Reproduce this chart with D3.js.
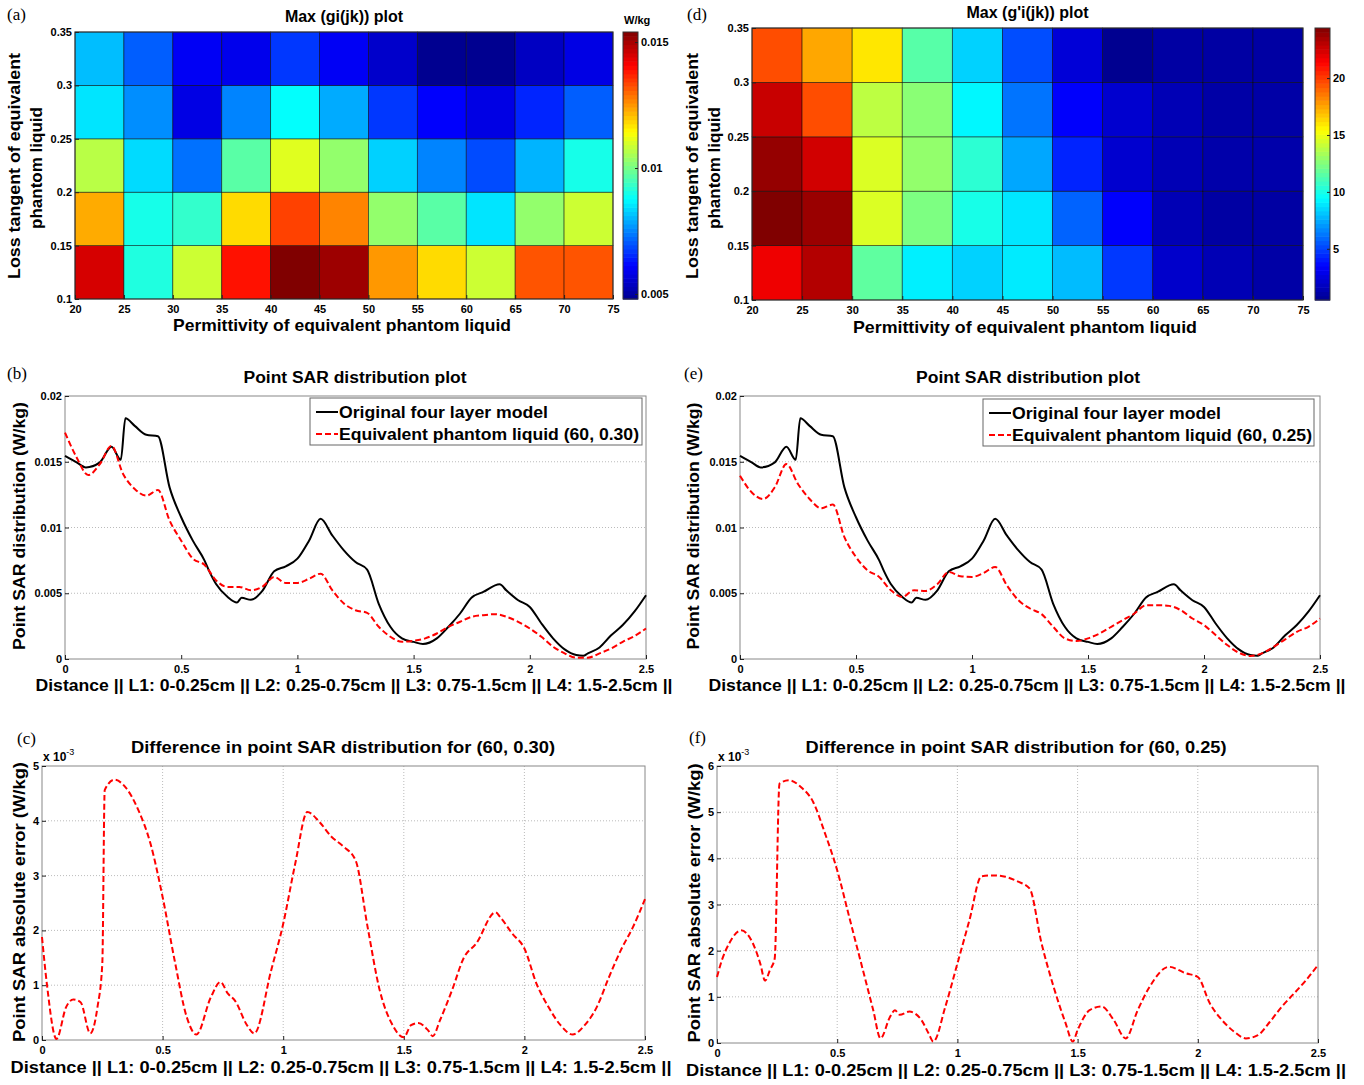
<!DOCTYPE html>
<html>
<head>
<meta charset="utf-8">
<script src="https://cdn.jsdelivr.net/npm/d3@7"></script>
<style>
  body { margin: 0; background: #fff; }
  svg text { font-family: "Liberation Sans", Arial, sans-serif; font-weight: bold; fill: #000; }
  svg text.plabel { font-family: "Liberation Serif", "Times New Roman", serif; font-weight: normal; }
</style>
</head>
<body>
<svg id="fig" width="1364" height="1085"></svg>
<script>
// ---- heatmap grid
const permEdges = [20, 25, 30, 35, 40, 45, 50, 55, 60, 65, 70, 75];
const tanEdges = [0.1, 0.15, 0.2, 0.25, 0.3, 0.35];

// Max(gi(jk)) in W/kg, one row per loss tangent band (bottom to top)
const gi_tan010 = [0.0145, 0.0091, 0.0109, 0.0139, 0.0154, 0.0151, 0.0125, 0.0118, 0.0109, 0.0132, 0.0132];
const gi_tan015 = [0.0123, 0.0090, 0.0093, 0.0118, 0.0134, 0.0127, 0.0103, 0.0097, 0.0085, 0.0103, 0.0109];
const gi_tan020 = [0.0107, 0.0084, 0.0073, 0.0097, 0.0111, 0.0103, 0.0083, 0.0075, 0.0069, 0.0080, 0.0090];
const gi_tan025 = [0.0085, 0.0076, 0.0058, 0.0075, 0.0088, 0.0079, 0.0067, 0.0061, 0.0058, 0.0065, 0.0071];
const gi_tan030 = [0.0081, 0.0071, 0.0060, 0.0059, 0.0067, 0.0060, 0.0055, 0.0048, 0.0048, 0.0054, 0.0058];

// Max(g'i(jk))
const gp_tan010 = [21.8, 23.2, 11.7, 9.1, 8.4, 9.0, 7.9, 4.8, 2.1, 1.5, 1.1];
const gp_tan015 = [24.4, 23.8, 14.6, 12.4, 10.0, 8.9, 5.8, 3.4, 1.5, 1.0, 1.0];
const gp_tan020 = [23.9, 22.5, 14.6, 12.9, 10.5, 7.4, 4.3, 2.2, 1.5, 1.2, 1.2];
const gp_tan025 = [22.7, 19.6, 13.9, 12.7, 9.3, 6.2, 3.4, 2.2, 1.5, 1.1, 1.1];
const gp_tan030 = [19.6, 17.5, 16.0, 11.5, 8.4, 5.3, 2.4, 0.5, 1.0, 1.0, 1.0];

// ---- point SAR (W/kg) vs distance (cm)
const distTicks = [0, 0.5, 1, 1.5, 2, 2.5];
const origDist = [0, 0.05, 0.09, 0.15, 0.2, 0.24, 0.26, 0.3, 0.35, 0.4, 0.45, 0.5, 0.55, 0.6, 0.62, 0.65, 0.7, 0.74, 0.76, 0.8,
  0.85, 0.9, 0.95, 1.0, 1.05, 1.1, 1.15, 1.2, 1.25, 1.3, 1.35, 1.4, 1.45, 1.5, 1.54, 1.6, 1.65, 1.7, 1.75, 1.8,
  1.87, 1.9, 1.95, 2.0, 2.05, 2.1, 2.15, 2.2, 2.23, 2.25, 2.3, 2.35, 2.4, 2.45, 2.5];
const origSAR = [0.01545, 0.01495, 0.01457, 0.01495, 0.01614, 0.01515, 0.0183, 0.01773, 0.01705, 0.01694, 0.01305, 0.01078, 0.0090, 0.0075, 0.0067, 0.0057, 0.00472, 0.0043, 0.00465, 0.0045,
  0.0052, 0.00667, 0.00705, 0.00763, 0.0090, 0.01066, 0.0094, 0.00826, 0.00737, 0.0068, 0.0042, 0.00245, 0.00157, 0.0013, 0.00114, 0.00157, 0.00245, 0.00346, 0.00467, 0.0051,
  0.00568, 0.0052, 0.00447, 0.00396, 0.0027, 0.00157, 0.00073, 0.0003, 0.00025, 0.00043, 0.00088, 0.0018, 0.00258, 0.0036, 0.00485];

const eqDist = [0, 0.05, 0.1, 0.15, 0.2, 0.25, 0.3, 0.35, 0.4, 0.45, 0.5, 0.55, 0.6, 0.65, 0.7, 0.75, 0.8, 0.85, 0.9, 0.95,
  1.0, 1.05, 1.1, 1.15, 1.2, 1.25, 1.3, 1.35, 1.4, 1.45, 1.5, 1.55, 1.6, 1.65, 1.7, 1.75, 1.8, 1.85, 1.9, 1.95,
  2.0, 2.05, 2.1, 2.15, 2.2, 2.25, 2.3, 2.35, 2.4, 2.45, 2.5];
const eqSAR_030 = [0.01722, 0.01533, 0.01399, 0.01482, 0.01621, 0.01407, 0.01293, 0.01242, 0.01285, 0.01053, 0.0090, 0.00763, 0.00717, 0.00598, 0.00548, 0.00548, 0.00523, 0.0055, 0.00624, 0.00578,
  0.00578, 0.0061, 0.00649, 0.00523, 0.00422, 0.00371, 0.00351, 0.00245, 0.00169, 0.00131, 0.00139, 0.00157, 0.00194, 0.00245, 0.00283, 0.00321, 0.00333, 0.00341, 0.00321, 0.00283,
  0.00232, 0.00169, 0.00093, 0.00043, 0.0001, 0.0001, 0.00043, 0.0008, 0.00131, 0.00174, 0.00232];
const eqSAR_025 = [0.01394, 0.01268, 0.01217, 0.01306, 0.01482, 0.01331, 0.01217, 0.01146, 0.01174, 0.00927, 0.00775, 0.00674, 0.00624, 0.00523, 0.00472, 0.00523, 0.00518, 0.00568, 0.00662, 0.00629,
  0.00624, 0.00654, 0.0070, 0.00561, 0.00447, 0.00384, 0.00341, 0.00245, 0.00157, 0.00136, 0.00157, 0.00194, 0.00245, 0.00295, 0.00346, 0.00409, 0.00409, 0.00404, 0.00371, 0.00308,
  0.00258, 0.00182, 0.00106, 0.00048, 0.00023, 0.00043, 0.00093, 0.00149, 0.00207, 0.00245, 0.00308];

// absolute error, x 10^-3 W/kg
const diffDist_030 = [0, 0.02, 0.06, 0.1, 0.13, 0.16, 0.2, 0.23, 0.25, 0.26, 0.3, 0.35, 0.4, 0.45, 0.5, 0.55, 0.6, 0.64, 0.7, 0.74,
  0.77, 0.8, 0.85, 0.88, 0.95, 1.0, 1.05, 1.1, 1.15, 1.2, 1.25, 1.3, 1.35, 1.4, 1.45, 1.5, 1.53, 1.56, 1.6, 1.62,
  1.65, 1.7, 1.75, 1.8, 1.88, 1.9, 1.95, 2.0, 2.05, 2.1, 2.15, 2.2, 2.25, 2.3, 2.35, 2.4, 2.45, 2.5];
const diff_030 = [1.88, 1.03, 0.02, 0.6, 0.74, 0.69, 0.12, 0.6, 1.39, 4.56, 4.75, 4.59, 4.19, 3.58, 2.61, 1.45, 0.42, 0.1, 0.78, 1.06,
  0.85, 0.72, 0.27, 0.12, 1.27, 2.12, 3.22, 4.16, 3.98, 3.71, 3.53, 3.28, 2.06, 0.91, 0.3, 0.05, 0.27, 0.31, 0.18, 0.07,
  0.36, 0.91, 1.51, 1.76, 2.33, 2.24, 1.94, 1.67, 1.03, 0.6, 0.27, 0.1, 0.27, 0.6, 1.14, 1.64, 2.06, 2.57];
const diffDist_025 = [0, 0.02, 0.05, 0.1, 0.15, 0.18, 0.2, 0.22, 0.24, 0.26, 0.3, 0.35, 0.4, 0.45, 0.5, 0.55, 0.6, 0.65, 0.68, 0.72,
  0.74, 0.76, 0.8, 0.85, 0.88, 0.9, 0.95, 1.0, 1.05, 1.1, 1.15, 1.2, 1.25, 1.3, 1.35, 1.4, 1.45, 1.48, 1.5, 1.55,
  1.6, 1.65, 1.7, 1.75, 1.8, 1.88, 1.95, 2.0, 2.05, 2.1, 2.15, 2.2, 2.25, 2.3, 2.35, 2.4, 2.45, 2.5];
const diff_025 = [1.43, 1.79, 2.15, 2.44, 2.15, 1.72, 1.35, 1.58, 1.83, 5.62, 5.69, 5.54, 5.22, 4.53, 3.74, 2.73, 1.72, 0.71, 0.1, 0.57,
  0.71, 0.61, 0.68, 0.5, 0.21, 0.03, 0.79, 1.72, 2.66, 3.61, 3.63, 3.6, 3.5, 3.35, 2.16, 1.22, 0.43, 0.03, 0.28, 0.71,
  0.79, 0.5, 0.1, 0.71, 1.22, 1.65, 1.51, 1.43, 0.86, 0.5, 0.25, 0.1, 0.17, 0.46, 0.79, 1.07, 1.36, 1.69];

const xLabelDist = "Distance || L1: 0-0.25cm || L2: 0.25-0.75cm || L3: 0.75-1.5cm || L4: 1.5-2.5cm ||";

const svg = d3.select("#fig");

// MATLAB jet
const jet = d3.scaleLinear()
  .domain([0, 0.125, 0.375, 0.625, 0.875, 1])
  .range(["#000090", "#0000ff", "#00ffff", "#ffff00", "#ff0000", "#800000"])
  .clamp(true);

function txt(x, y, s, size, opt = {}) {
  const t = svg.append("text")
    .attr("x", x).attr("y", y)
    .attr("font-size", size)
    .attr("text-anchor", opt.anchor || "middle")
    .text(s);
  if (opt.rotate) t.attr("transform", `rotate(-90,${x},${y})`).attr("dy", "0.35em");
  if (opt.len) t.attr("textLength", opt.len).attr("lengthAdjust", "spacingAndGlyphs");
  if (opt.cls) t.attr("class", opt.cls);
  return t;
}

function styleAxis(ax, size) {
  ax.attr("font-size", size).attr("font-family", null);
  ax.select(".domain").remove();
  ax.selectAll(".tick line").attr("stroke", "#222");
}

function heatmap(o) {
  const x = d3.scaleLinear().domain([20, 75]).range([o.left, o.right]);
  const y = d3.scaleLinear().domain([0.1, 0.35]).range([o.bottom, o.top]);
  const ext = d3.extent(o.rows.flat());
  const norm = d3.scaleLinear().domain(ext).range([0, 1]);
  const g = svg.append("g");

  const cells = o.rows.flatMap((row, i) => row.map((v, j) => ({ i, j, v })));
  g.selectAll("rect.cell").data(cells).join("rect")
    .attr("class", "cell")
    .attr("x", d => x(permEdges[d.j]))
    .attr("y", d => y(tanEdges[d.i + 1]))
    .attr("width", d => x(permEdges[d.j + 1]) - x(permEdges[d.j]))
    .attr("height", d => y(tanEdges[d.i]) - y(tanEdges[d.i + 1]))
    .attr("fill", d => jet(norm(d.v)))
    .attr("stroke", "#000").attr("stroke-opacity", 0.6).attr("stroke-width", 0.8);

  g.append("rect").attr("x", o.left).attr("y", o.top)
    .attr("width", o.right - o.left).attr("height", o.bottom - o.top)
    .attr("fill", "none").attr("stroke", "#333").attr("stroke-width", 1);

  const ax = g.append("g").attr("transform", `translate(0,${o.bottom})`)
    .call(d3.axisBottom(x).tickValues(permEdges).tickSize(-4).tickPadding(6).tickFormat(d => String(d)));
  styleAxis(ax, 11);
  const ay = g.append("g").attr("transform", `translate(${o.left},0)`)
    .call(d3.axisLeft(y).tickValues(tanEdges).tickSize(-4).tickPadding(3).tickFormat(d => String(d)));
  styleAxis(ay, 11);

  // colorbar
  const cb = d3.scaleLinear().domain(ext).range([o.bottom, o.top]);
  const n = 64, h = (o.bottom - o.top) / n;
  g.selectAll("rect.cb").data(d3.range(n)).join("rect")
    .attr("class", "cb")
    .attr("x", o.cbLeft).attr("width", o.cbRight - o.cbLeft)
    .attr("y", k => o.bottom - (k + 1) * h).attr("height", h + 0.6)
    .attr("fill", k => jet((k + 0.5) / n));
  g.append("rect").attr("x", o.cbLeft).attr("y", o.top)
    .attr("width", o.cbRight - o.cbLeft).attr("height", o.bottom - o.top)
    .attr("fill", "none").attr("stroke", "#333");
  const ac = g.append("g").attr("transform", `translate(${o.cbRight},0)`)
    .call(d3.axisRight(cb).tickValues(o.cbTicks).tickSize(-3).tickPadding(3).tickFormat(d => String(d)));
  styleAxis(ac, 11);

  txt((o.left + o.right) / 2, o.titleY, o.title, 16);
  txt(o.xlabX, o.xlabY, "Permittivity of equivalent phantom liquid", 17, { len: o.xlabLen });
  txt(o.ylab1X, 166, "Loss tangent of equivalent", 17, { rotate: true, len: 226 });
  txt(o.ylab2X, 168, "phantom liquid", 17, { rotate: true, len: 122 });
}

function linePanel(o) {
  const x = d3.scaleLinear().domain([0, 2.5]).range([o.left, o.right]);
  const y = d3.scaleLinear().domain([0, o.ymax]).range([o.bottom, o.top]);
  const g = svg.append("g");

  g.selectAll("line.gy").data(o.yTicks.slice(1, -1)).join("line")
    .attr("x1", o.left).attr("x2", o.right)
    .attr("y1", d => y(d)).attr("y2", d => y(d))
    .attr("stroke", "#aaa").attr("stroke-width", 0.8).attr("stroke-dasharray", "1,2");
  if (o.gridX) {
    g.selectAll("line.gx").data(distTicks.slice(1, -1)).join("line")
      .attr("y1", o.top).attr("y2", o.bottom)
      .attr("x1", d => x(d)).attr("x2", d => x(d))
      .attr("stroke", "#aaa").attr("stroke-width", 0.8).attr("stroke-dasharray", "1,2");
  }

  g.append("rect").attr("x", o.left).attr("y", o.top)
    .attr("width", o.right - o.left).attr("height", o.bottom - o.top)
    .attr("fill", "none").attr("stroke", "#888").attr("stroke-width", 1);

  const ax = g.append("g").attr("transform", `translate(0,${o.bottom})`)
    .call(d3.axisBottom(x).tickValues(distTicks).tickSize(-4).tickPadding(6).tickFormat(d => String(d)));
  styleAxis(ax, 11);
  const ay = g.append("g").attr("transform", `translate(${o.left},0)`)
    .call(d3.axisLeft(y).tickValues(o.yTicks).tickSize(-4).tickPadding(3).tickFormat(d => String(d)));
  styleAxis(ay, 11);

  const line = d3.line().x(d => x(d[0])).y(d => y(d[1])).curve(d3.curveMonotoneX);
  o.series.forEach(s => {
    g.append("path")
      .datum(s.x.map((d, i) => [d, s.y[i]]))
      .attr("d", line)
      .attr("fill", "none")
      .attr("stroke", s.color)
      .attr("stroke-width", 2)
      .attr("stroke-dasharray", s.dash || null);
  });

  if (o.legend) {
    const L = o.legend;
    g.append("rect").attr("x", L.x).attr("y", L.y).attr("width", L.w).attr("height", 47)
      .attr("fill", "#fff").attr("stroke", "#666").attr("stroke-width", 1);
    o.series.forEach((s, i) => {
      const cy = L.y + 14 + i * 22;
      g.append("line").attr("x1", L.x + 6).attr("x2", L.x + 28).attr("y1", cy).attr("y2", cy)
        .attr("stroke", s.color).attr("stroke-width", 2).attr("stroke-dasharray", s.dash || null);
      txt(L.x + 29, cy + 6, s.name, 16, { anchor: "start", len: s.nameLen });
    });
  }

  if (o.exponent) {
    const t = txt(o.left + 1, o.top - 5, "x 10", 12, { anchor: "start" });
    t.append("tspan").attr("dy", -6).attr("font-size", 9).style("font-weight", "normal").text("-3");
  }

  txt(o.titleX, o.titleY, o.title, 16, { len: o.titleLen });
  txt(o.xlabX, o.xlabY, xLabelDist, 17, { len: o.xlabLen });
  txt(o.ylabX, o.ylabY, o.ylab, 17, { rotate: true, len: o.ylabLen });
}

// (a)
heatmap({
  rows: [gi_tan010, gi_tan015, gi_tan020, gi_tan025, gi_tan030],
  left: 75, right: 613, top: 32, bottom: 299,
  cbLeft: 623, cbRight: 638, cbTicks: [0.005, 0.01, 0.015],
  title: "Max (gi(jk)) plot", titleY: 22,
  xlabX: 342, xlabY: 331, xlabLen: 338,
  ylab1X: 14, ylab2X: 36
});
txt(624, 24, "W/kg", 11, { anchor: "start" });

// (d)
heatmap({
  rows: [gp_tan010, gp_tan015, gp_tan020, gp_tan025, gp_tan030],
  left: 752, right: 1303, top: 28, bottom: 300,
  cbLeft: 1315, cbRight: 1330, cbTicks: [5, 10, 15, 20],
  title: "Max (g'i(jk)) plot", titleY: 18,
  xlabX: 1025, xlabY: 333, xlabLen: 344,
  ylab1X: 692, ylab2X: 714
});

// (b)
linePanel({
  left: 65, right: 646, top: 396, bottom: 659,
  ymax: 0.02, yTicks: [0, 0.005, 0.01, 0.015, 0.02],
  series: [
    { x: origDist, y: origSAR, color: "#000", name: "Original four layer model", nameLen: 209 },
    { x: eqDist, y: eqSAR_030, color: "#ff0000", dash: "6,3", name: "Equivalent phantom liquid (60, 0.30)", nameLen: 300 }
  ],
  legend: { x: 310, y: 398, w: 332 },
  title: "Point SAR distribution plot", titleX: 355, titleY: 383, titleLen: 223,
  xlabX: 354, xlabY: 691, xlabLen: 637,
  ylab: "Point SAR distribution (W/kg)", ylabX: 19, ylabY: 526, ylabLen: 248
});

// (e)
linePanel({
  left: 740, right: 1320, top: 396, bottom: 659,
  ymax: 0.02, yTicks: [0, 0.005, 0.01, 0.015, 0.02],
  series: [
    { x: origDist, y: origSAR, color: "#000", name: "Original four layer model", nameLen: 209 },
    { x: eqDist, y: eqSAR_025, color: "#ff0000", dash: "6,3", name: "Equivalent phantom liquid (60, 0.25)", nameLen: 300 }
  ],
  legend: { x: 983, y: 399, w: 331 },
  title: "Point SAR distribution plot", titleX: 1028, titleY: 383, titleLen: 224,
  xlabX: 1027, xlabY: 691, xlabLen: 637,
  ylab: "Point SAR distribution (W/kg)", ylabX: 693, ylabY: 526, ylabLen: 247
});

// (c)
linePanel({
  left: 42, right: 645, top: 766, bottom: 1040,
  ymax: 5, yTicks: [0, 1, 2, 3, 4, 5], gridX: true, exponent: true,
  series: [{ x: diffDist_030, y: diff_030, color: "#ff0000", dash: "6,3" }],
  title: "Difference in point SAR distribution for (60, 0.30)", titleX: 343, titleY: 753, titleLen: 424,
  xlabX: 341, xlabY: 1073, xlabLen: 661,
  ylab: "Point SAR absolute error (W/kg)", ylabX: 19, ylabY: 902, ylabLen: 280
});

// (f)
linePanel({
  left: 717, right: 1318, top: 766, bottom: 1043,
  ymax: 6, yTicks: [0, 1, 2, 3, 4, 5, 6], gridX: true, exponent: true,
  series: [{ x: diffDist_025, y: diff_025, color: "#ff0000", dash: "6,3" }],
  title: "Difference in point SAR distribution for (60, 0.25)", titleX: 1016, titleY: 753, titleLen: 421,
  xlabX: 1016, xlabY: 1076, xlabLen: 660,
  ylab: "Point SAR absolute error (W/kg)", ylabX: 694, ylabY: 903, ylabLen: 279
});

// panel letters
[["(a)", 7, 20], ["(d)", 687, 20], ["(b)", 7, 379], ["(e)", 684, 379], ["(c)", 17, 744], ["(f)", 689, 743]]
  .forEach(([s, x, y]) => txt(x, y, s, 17, { anchor: "start", cls: "plabel" }));
</script>
</body>
</html>
